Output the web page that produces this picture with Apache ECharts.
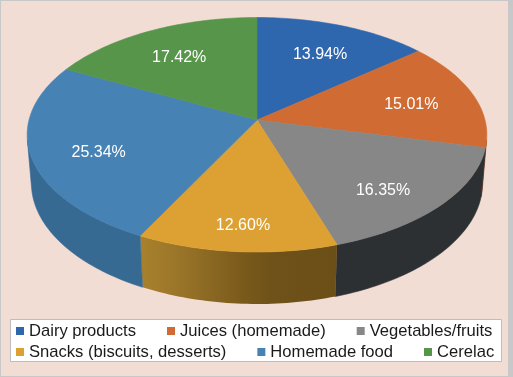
<!DOCTYPE html>
<html>
<head>
<meta charset="utf-8">
<style>
  html, body { margin: 0; padding: 0; background: #c8c8c8; }
  #chart { width: 513px; height: 377px; }
</style>
<script src="https://cdn.jsdelivr.net/npm/echarts@6/dist/echarts.min.js"></script>
</head>
<body>
<div id="chart"></div>
<script>
// ---- data ----
const categories = ['Dairy products', 'Juices (homemade)', 'Vegetables/fruits',
                    'Snacks (biscuits, desserts)', 'Homemade food', 'Cerelac'];
const values = [13.94, 15.01, 16.35, 12.60, 25.34, 17.42];

// ---- styles ----
const topColors = ['#2f67ae', '#d06b33', '#878787', '#dda133', '#4682b4', '#56954a'];
const wallColors = [
  '#1f4a7e',
  '#7a3e1c',
  '#2c3033',
  new echarts.graphic.LinearGradient(0, 0, 1, 0, [
    { offset: 0, color: '#a9812d' },
    { offset: 0.15, color: '#9e782a' },
    { offset: 0.31, color: '#8f6c25' },
    { offset: 0.51, color: '#7b5b1c' },
    { offset: 0.66, color: '#6f5219' },
    { offset: 1, color: '#6b4f17' }
  ]),
  '#376a93',
  '#3b6b33'
];

// ---- 3D projection of the pie disk ----
const G = { cx: 257, cy: 120, A: 228, B: 115.4, k: 0.126, H: 48.8, Hd: 0.0184 };
function proj(phi, r, hh) {
  const x = r * Math.sin(phi), z = -r * Math.cos(phi);
  const den = 1 + hh * G.Hd - G.k * z;
  return [G.cx + G.A * x / den, G.cy + (hh * G.H + G.B * z) / den];
}
const visA = Math.acos(-0.169), visB = 2 * Math.PI - Math.acos(-0.169);

const total = values.reduce((a, b) => a + b, 0);
const starts = [];
let acc = 0;
values.forEach(v => { starts.push(acc / total * 2 * Math.PI); acc += v; });

function arc(a, b, hh) {
  const n = Math.max(4, Math.ceil((b - a) / 0.02));
  const pts = [];
  for (let i = 0; i <= n; i++) pts.push(proj(a + (b - a) * i / n, 1, hh));
  return pts;
}

function makeRender(idx) {
  return function (params, api) {
    const v = api.value(0);
    const a = starts[idx];
    const b = a + v / total * 2 * Math.PI;
    const children = [];
    // top face
    const topPts = [proj(0, 0, 0)].concat(arc(a, b, 0));
    children.push({
      type: 'polygon', shape: { points: topPts },
      style: { fill: topColors[idx], stroke: topColors[idx], lineWidth: 0.6 },
      z2: 10
    });
    // outer wall (front-facing part only)
    const wa = Math.max(a, visA), wb = Math.min(b, visB);
    if (wb > wa) {
      const up = arc(wa, wb, 0);
      const dn = arc(wa, wb, 1).reverse();
      children.push({
        type: 'polygon', shape: { points: up.concat(dn) },
        style: { fill: wallColors[idx], stroke: typeof wallColors[idx] === 'string' ? wallColors[idx] : null, lineWidth: 0.6 },
        z2: 1
      });
    }
    // label
    const mid = (a + b) / 2;
    const zMid = -0.71 * Math.cos(mid);
    const lp = proj(mid, 0.71, 0.35 * Math.max(0, zMid));
    children.push({
      type: 'text', x: lp[0], y: lp[1] + 3,
      style: {
        text: v.toFixed(2) + '%', fill: '#ffffff',
        font: '16px "Liberation Sans", Arial, sans-serif',
        align: 'center', verticalAlign: 'middle'
      },
      z2: 30
    });
    return { type: 'group', children: children };
  };
}

const series = categories.map((name, i) => ({
  type: 'custom',
  name: name,
  coordinateSystem: 'none',
  renderItem: makeRender(i),
  itemStyle: { color: topColors[i] },
  data: [[values[i]]],
  silent: true,
  animation: false
}));

const legendText = { fontSize: 16.6, fontFamily: '"Liberation Sans", Arial, sans-serif', color: '#1a1a1a', lineHeight: 18 };

const chart = echarts.init(document.getElementById('chart'), null, { renderer: 'canvas' });
chart.setOption({
  backgroundColor: '#c8c8c8',
  animation: false,
  graphic: [
    { type: 'rect', z: 0, shape: { x: 1, y: 1, width: 507, height: 375 }, style: { fill: '#f2ddd5' } },
    { type: 'rect', z: 1, shape: { x: 10.5, y: 319.5, width: 491, height: 42 }, style: { fill: '#ffffff', stroke: '#bdbdbd', lineWidth: 1 } }
  ],
  legend: [
    { data: categories.slice(0, 3), left: 16, top: 322, padding: 0, itemGap: 31, itemWidth: 8, itemHeight: 8,
      icon: 'rect', selectedMode: false, textStyle: legendText },
    { data: categories.slice(3), left: 16, top: 343, padding: 0, itemGap: 31, itemWidth: 8, itemHeight: 8,
      icon: 'rect', selectedMode: false, textStyle: legendText }
  ],
  series: series
});
</script>
</body>
</html>
